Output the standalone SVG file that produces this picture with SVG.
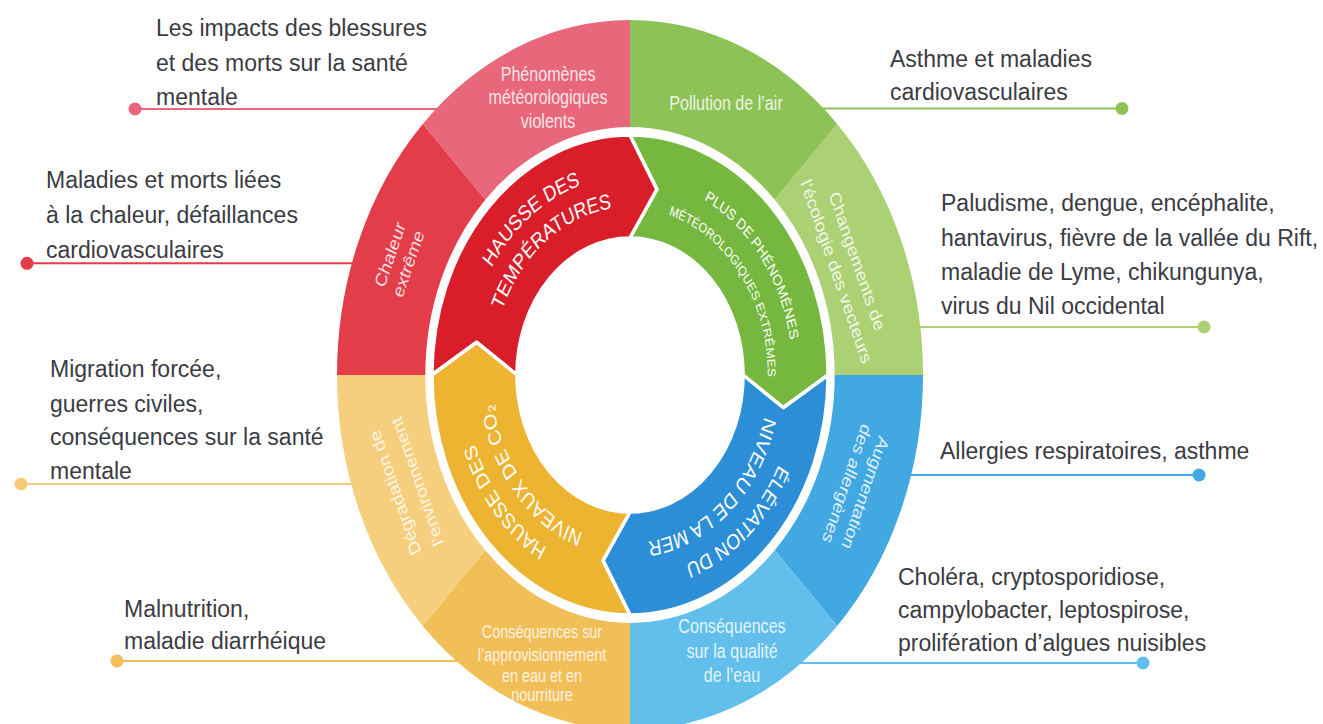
<svg xmlns="http://www.w3.org/2000/svg" width="1323" height="724" viewBox="0 0 1323 724">
<style>
.ext{font-family:"Liberation Sans",Arial,sans-serif;font-size:23px;fill:#3b3b43}
.ol{font-family:"Liberation Sans",Arial,sans-serif;font-size:19.5px;fill:#fff;fill-opacity:.85;text-anchor:middle}
.il{font-family:"Liberation Sans",Arial,sans-serif;font-size:21.5px;fill:#fff;text-anchor:middle}
.arrow{stroke:#fff;stroke-width:3.5;stroke-linejoin:round;vector-effect:non-scaling-stroke}
.lead{stroke-width:2;fill:none}
</style>
<defs>
<path id="pR1" d="M -198.24,-17.34 A 199 199 0 0 1 34.56,-195.98"/>
<path id="pR2" d="M -167.36,-14.64 A 168 168 0 0 1 29.17,-165.45"/>
<path id="pG1" d="M 17.17,-196.25 A 197 197 0 0 1 192.70,40.96"/>
<path id="pG2" d="M 14.56,-166.36 A 167 167 0 0 1 163.35,34.72"/>
<path id="pB1" d="M 201,0 A 201 201 0 0 1 -24.50,199.50"/>
<path id="pB2" d="M 168,0 A 168 168 0 0 1 -20.47,166.75"/>
<path id="pY1" d="M -3.49,199.97 A 200 200 0 0 1 -197.54,-31.29"/>
<path id="pY2" d="M -2.93,167.97 A 168 168 0 0 1 -165.93,-26.28"/>
</defs>
<rect width="1323" height="724" fill="#fff"/>

<g id="connectors">
<line class="lead" x1="135" y1="109" x2="442" y2="109" stroke="#e8677a"/>
<circle cx="135" cy="109" r="6.5" fill="#e8677a"/>
<line class="lead" x1="27" y1="263.3" x2="358" y2="263.3" stroke="#e43d4a"/>
<circle cx="27" cy="263.3" r="6.5" fill="#e43d4a"/>
<line class="lead" x1="21" y1="484" x2="357" y2="484" stroke="#f4cb78"/>
<circle cx="21" cy="484" r="6.5" fill="#f4cb78"/>
<line class="lead" x1="117" y1="661" x2="462" y2="661" stroke="#f2be58"/>
<circle cx="117" cy="661" r="6.5" fill="#f2be58"/>
<line class="lead" x1="816" y1="108.5" x2="1122" y2="108.5" stroke="#8dc256"/>
<circle cx="1122" cy="108.5" r="6.5" fill="#8dc256"/>
<line class="lead" x1="914" y1="327" x2="1204" y2="327" stroke="#acd174"/>
<circle cx="1204" cy="327" r="6.5" fill="#acd174"/>
<line class="lead" x1="905" y1="475" x2="1199" y2="475" stroke="#42a8e2"/>
<circle cx="1199" cy="475" r="6.5" fill="#42a8e2"/>
<line class="lead" x1="795" y1="663" x2="1143" y2="663" stroke="#62bfec"/>
<circle cx="1143" cy="663" r="6.5" fill="#62bfec"/>
</g>

<g transform="translate(630,375) scale(0.8254,1)">
<g id="seg-phenomenes">
<path d="M -251.02,-251.02 A 355 355 0 0 1 0,-355 L 0,-248 A 248 248 0 0 0 -175.36,-175.36 Z" fill="#e8677a"/>
<text class="ol" x="-99.3" y="-294.5">Phénomènes</text>
<text class="ol" x="-99.3" y="-271">météorologiques</text>
<text class="ol" x="-99.3" y="-247">violents</text>
</g>
<g id="seg-chaleur">
<path d="M -355,0 A 355 355 0 0 1 -251.02,-251.02 L -175.36,-175.36 A 248 248 0 0 0 -248,0 Z" fill="#e43d4a"/>
<g transform="rotate(292.5)">
<text class="ol" x="0" y="-308">Chaleur</text>
<text class="ol" x="0" y="-284">extrême</text>
</g>
</g>
<g id="seg-pollution">
<path d="M 0,-355 A 355 355 0 0 1 251.02,-251.02 L 175.36,-175.36 A 248 248 0 0 0 0,-248 Z" fill="#8dc256"/>
<text class="ol" x="116.3" y="-265">Pollution de l’air</text>
</g>
<g id="seg-vecteurs">
<path d="M 251.02,-251.02 A 355 355 0 0 1 355,0 L 248,0 A 248 248 0 0 0 175.36,-175.36 Z" fill="#acd174"/>
<g transform="rotate(67.5)">
<text class="ol" x="0" y="-291">Changements de</text>
<text class="ol" x="0" y="-264">l’écologie des vecteurs</text>
</g>
</g>
<g id="seg-allergenes">
<path d="M 355,0 A 355 355 0 0 1 251.02,251.02 L 175.36,175.36 A 248 248 0 0 0 248,0 Z" fill="#42a8e2"/>
<g transform="rotate(112.5)">
<text class="ol" x="0" y="-302">Augmentation</text>
<text class="ol" x="0" y="-278">des allergènes</text>
</g>
</g>
<g id="seg-qualite-eau">
<path d="M 251.02,251.02 A 355 355 0 0 1 0,355 L 0,248 A 248 248 0 0 0 175.36,175.36 Z" fill="#62bfec"/>
<text class="ol" x="123.6" y="258">Conséquences</text>
<text class="ol" x="123.6" y="283">sur la qualité</text>
<text class="ol" x="123.6" y="307">de l’eau</text>
</g>
<g id="seg-approvisionnement">
<path d="M 0,355 A 355 355 0 0 1 -251.02,251.02 L -175.36,175.36 A 248 248 0 0 0 0,248 Z" fill="#f2be58"/>
<text class="ol" x="-106.6" y="263" style="font-size:17.5px">Conséquences sur</text>
<text class="ol" x="-106.6" y="286" style="font-size:17.5px">l’approvisionnement</text>
<text class="ol" x="-106.6" y="307" style="font-size:17.5px">en eau et en</text>
<text class="ol" x="-106.6" y="326" style="font-size:17.5px">nourriture</text>
</g>
<g id="seg-environnement">
<path d="M -251.02,251.02 A 355 355 0 0 1 -355,0 L -248,0 A 248 248 0 0 0 -175.36,175.36 Z" fill="#f6cf7e"/>
<g transform="rotate(247.5)">
<text class="ol" x="0" y="-301">Dégradation de</text>
<text class="ol" x="0" y="-272">l’environnement</text>
</g>
</g>

<g id="arrow-temperatures">
<path class="arrow" d="M -240,0 A 240 240 0 0 1 0,-240 L 32.73,-185.64 L 0,-137 A 137 137 0 0 0 -137,0 L -185.64,-32.73 Z" fill="#d91e2a"/>
<text class="il"><textPath href="#pR1" startOffset="50%">HAUSSE DES</textPath></text>
<text class="il"><textPath href="#pR2" startOffset="50%">TEMPÉRATURES</textPath></text>
</g>
<g id="arrow-phenomenes">
<path class="arrow" d="M 0,-240 A 240 240 0 0 1 240,0 L 185.64,32.73 L 137,0 A 137 137 0 0 0 0,-137 L 32.73,-185.64 Z" fill="#76b73f"/>
<text class="il" style="font-size:15.5px"><textPath href="#pG1" startOffset="50%">PLUS DE PHÉNOMÈNES</textPath></text>
<text class="il" style="font-size:13.5px"><textPath href="#pG2" startOffset="50%">MÉTÉOROLOGIQUES EXTRÊMES</textPath></text>
</g>
<g id="arrow-mer">
<path class="arrow" d="M 240,0 A 240 240 0 0 1 0,240 L -32.73,185.64 L 0,137 A 137 137 0 0 0 137,0 L 185.64,32.73 Z" fill="#2c8ed6"/>
<text class="il"><textPath href="#pB1" startOffset="50%">ÉLÉVATION DU</textPath></text>
<text class="il"><textPath href="#pB2" startOffset="50%">NIVEAU DE LA MER</textPath></text>
</g>
<g id="arrow-co2">
<path class="arrow" d="M 0,240 A 240 240 0 0 1 -240,0 L -185.64,-32.73 L -137,0 A 137 137 0 0 0 0,137 L -32.73,185.64 Z" fill="#edb431"/>
<text class="il"><textPath href="#pY1" startOffset="50%">HAUSSE DES</textPath></text>
<text class="il"><textPath href="#pY2" startOffset="50%">NIVEAUX DE CO₂</textPath></text>
</g>
</g>

<g id="label-blessures">
<text class="ext" x="156" y="36">Les impacts des blessures</text>
<text class="ext" x="156" y="71">et des morts sur la santé</text>
<text class="ext" x="156" y="105">mentale</text>
</g>
<g id="label-chaleur">
<text class="ext" x="46" y="188">Maladies et morts liées</text>
<text class="ext" x="46" y="223">à la chaleur, défaillances</text>
<text class="ext" x="46" y="258">cardiovasculaires</text>
</g>
<g id="label-migration">
<text class="ext" x="50" y="377">Migration forcée,</text>
<text class="ext" x="50" y="412">guerres civiles,</text>
<text class="ext" x="50" y="445">conséquences sur la santé</text>
<text class="ext" x="50" y="479">mentale</text>
</g>
<g id="label-malnutrition">
<text class="ext" x="124" y="617">Malnutrition,</text>
<text class="ext" x="124" y="649">maladie diarrhéique</text>
</g>
<g id="label-asthme">
<text class="ext" x="890" y="67">Asthme et maladies</text>
<text class="ext" x="890" y="100">cardiovasculaires</text>
</g>
<g id="label-paludisme">
<text class="ext" x="941" y="211">Paludisme, dengue, encéphalite,</text>
<text class="ext" x="941" y="246">hantavirus, fièvre de la vallée du Rift,</text>
<text class="ext" x="941" y="280">maladie de Lyme, chikungunya,</text>
<text class="ext" x="941" y="314">virus du Nil occidental</text>
</g>
<g id="label-allergies">
<text class="ext" x="940" y="459">Allergies respiratoires, asthme</text>
</g>
<g id="label-cholera">
<text class="ext" x="898" y="585">Choléra, cryptosporidiose,</text>
<text class="ext" x="898" y="618">campylobacter, leptospirose,</text>
<text class="ext" x="898" y="651">prolifération d’algues nuisibles</text>
</g>
</svg>
